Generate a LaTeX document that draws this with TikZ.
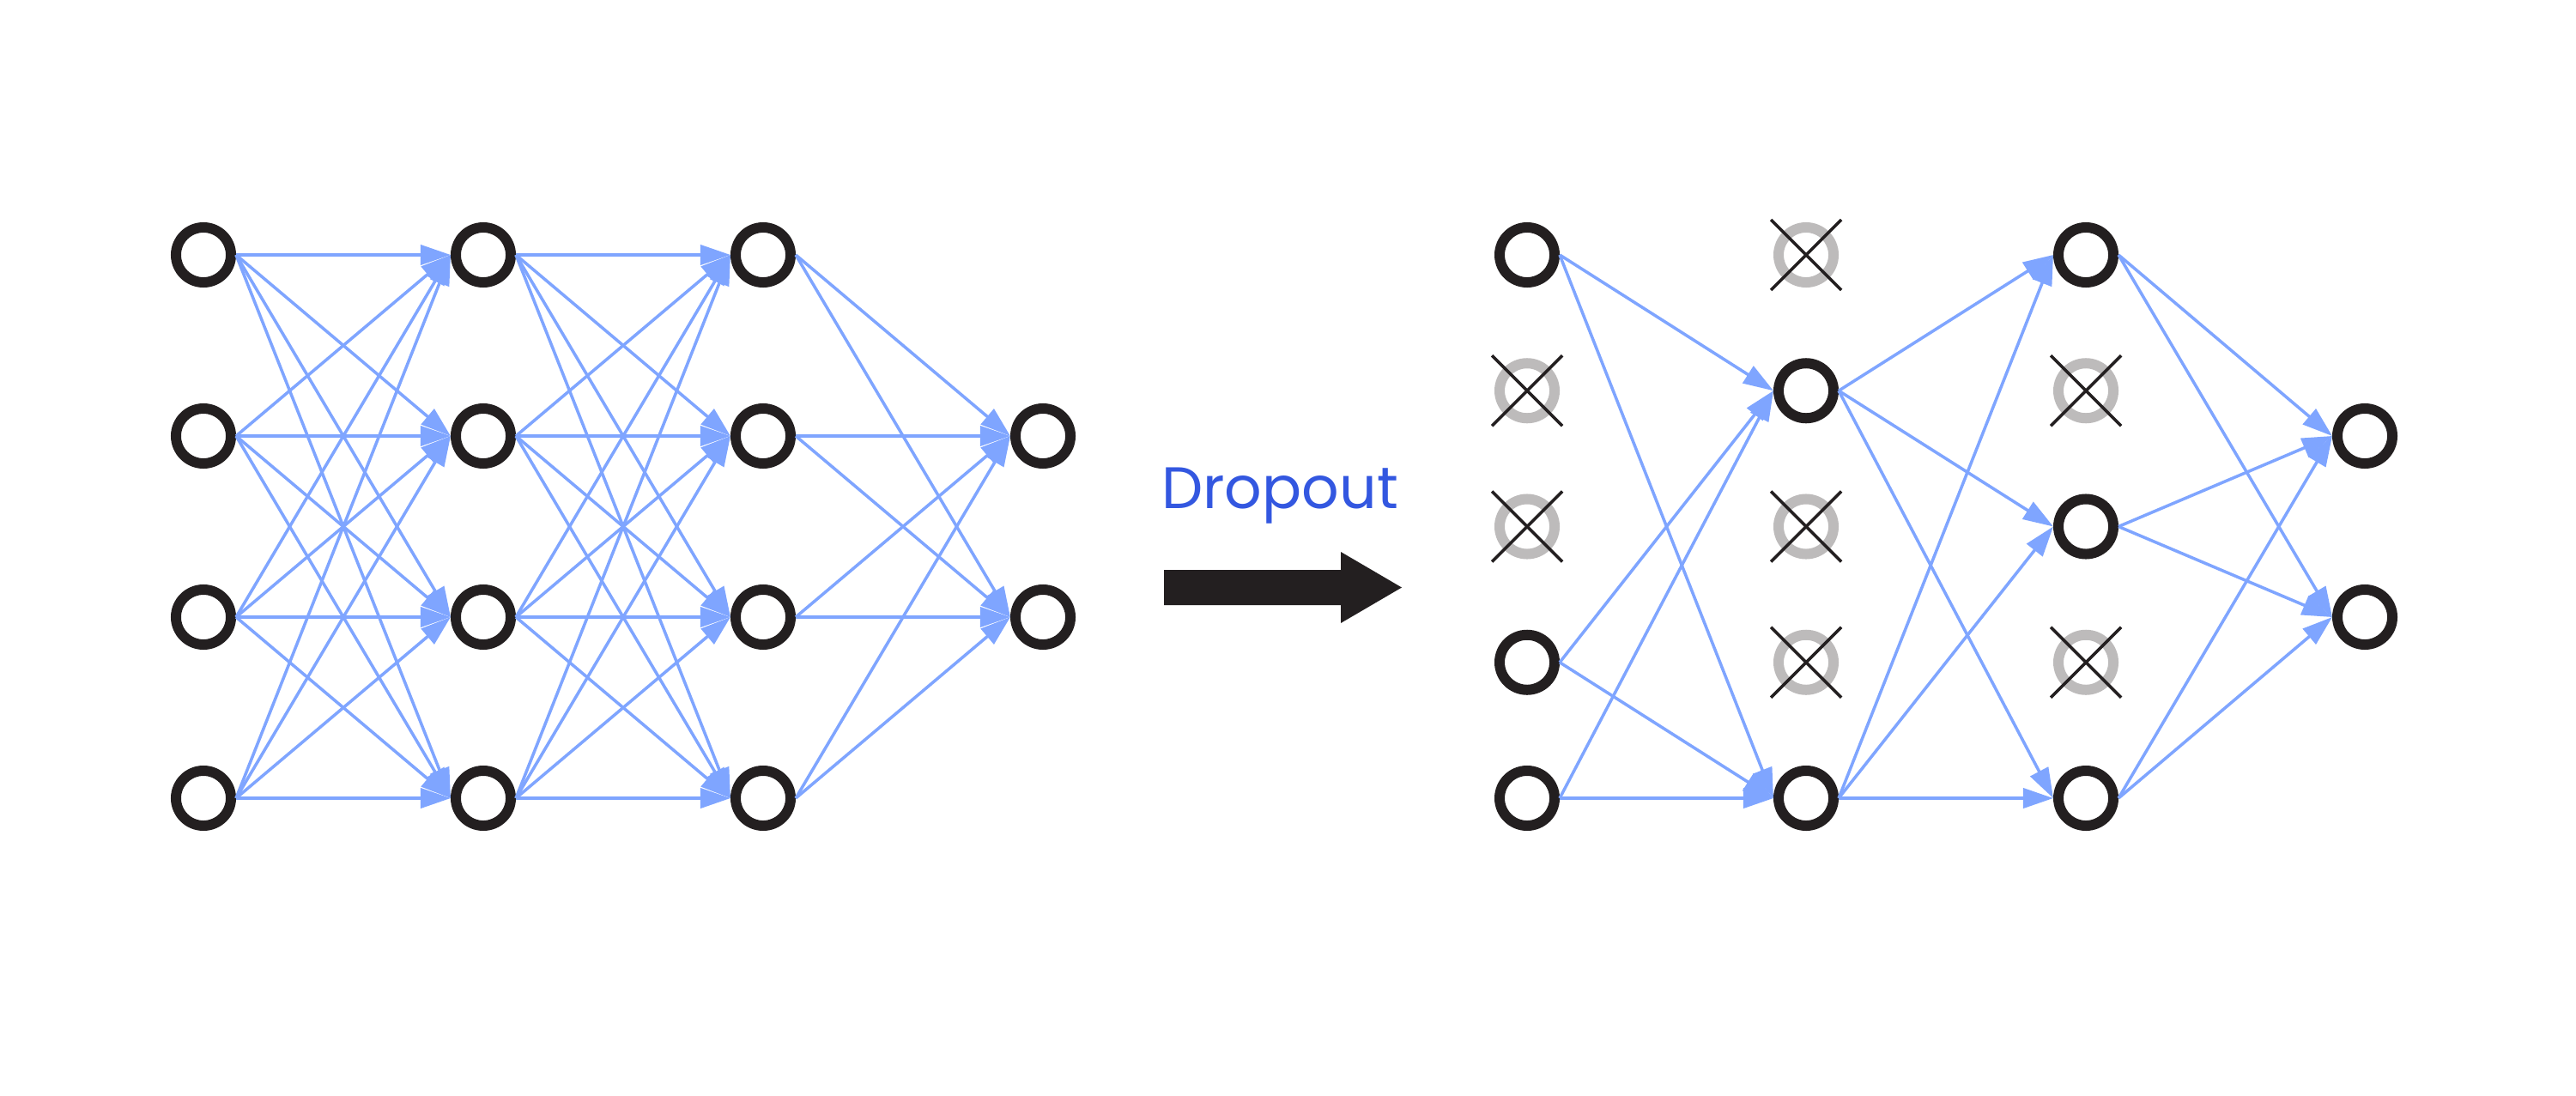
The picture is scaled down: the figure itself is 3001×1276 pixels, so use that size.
\documentclass[tikz,border=0pt]{standalone}
\usepackage{fontspec}
\newfontfamily\dropfont{Poppins}
\usetikzlibrary{arrows.meta}
\definecolor{ringc}{RGB}{35,31,32}
\definecolor{edgec}{RGB}{127,165,255}
\definecolor{dropc}{RGB}{189,187,187}
\definecolor{textc}{RGB}{51,87,224}
\tikzset{
 neuron/.style={circle,draw=ringc,line width=3.41pt,fill=white,minimum size=0.64cm,inner sep=0pt},
 dropped/.style={neuron,draw=dropc},
 conn/.style={draw=edgec,line width=1pt,-{Triangle[length=10pt,width=6.6pt]}},
 cross/.style={draw=ringc,line width=1pt},
}
\begin{document}
\begin{tikzpicture}[x=0.01cm,y=-0.01cm]
\useasboundingbox (0,0) rectangle (3001,1276);
% left network
\foreach \c/\x in {1/237,2/563,3/889}
  \foreach \r/\y in {1/297,2/508,3/719,4/930}
    \node[neuron] (L\c\r) at (\x,\y) {};
\node[neuron] (L41) at (1215,508) {};
\node[neuron] (L42) at (1215,719) {};
\foreach \c/\n in {1/2,2/3}
  \foreach \i in {1,...,4}
    \foreach \j in {1,...,4}
      \draw[conn] (L\c\i.east) -- (L\n\j.west);
\foreach \i in {1,...,4}
  \foreach \j in {1,2}
    \draw[conn] (L3\i.east) -- (L4\j.west);
% label and arrow
\node[text=textc,font=\dropfont\fontsize{19.4}{23}\selectfont,anchor=base,inner sep=0pt] (lbl) at (1491,592) {Dropout};
\fill[ringc] (1356,664) -- (1562,664) -- (1562,643) -- (1633,684.5) -- (1562,726) -- (1562,705) -- (1356,705) -- cycle;
% right network
\node[neuron]  (A1) at (1779,297) {};
\node[dropped] (A2) at (1779,455.25) {};
\node[dropped] (A3) at (1779,613.5) {};
\node[neuron]  (A4) at (1779,771.75) {};
\node[neuron]  (A5) at (1779,930) {};
\node[dropped] (B1) at (2104,297) {};
\node[neuron]  (B2) at (2104,455.25) {};
\node[dropped] (B3) at (2104,613.5) {};
\node[dropped] (B4) at (2104,771.75) {};
\node[neuron]  (B5) at (2104,930) {};
\node[neuron]  (C1) at (2430,297) {};
\node[dropped] (C2) at (2430,455.25) {};
\node[neuron]  (C3) at (2430,613.5) {};
\node[dropped] (C4) at (2430,771.75) {};
\node[neuron]  (C5) at (2430,930) {};
\node[neuron]  (D1) at (2755,508) {};
\node[neuron]  (D2) at (2755,719) {};
\foreach \d in {A2,A3,B1,B3,B4,C2,C4}{
  \draw[cross] ([shift={(-41,-41)}]\d.center) -- ([shift={(41,41)}]\d.center);
  \draw[cross] ([shift={(-41,41)}]\d.center) -- ([shift={(41,-41)}]\d.center);
}
\foreach \s in {A1,A4,A5}
  \foreach \t in {B2,B5}
    \draw[conn] (\s.east) -- (\t.west);
\foreach \s in {B2,B5}
  \foreach \t in {C1,C3,C5}
    \draw[conn] (\s.east) -- (\t.west);
\foreach \s in {C1,C3,C5}
  \foreach \t in {D1,D2}
    \draw[conn] (\s.east) -- (\t.west);
\end{tikzpicture}
\end{document}
